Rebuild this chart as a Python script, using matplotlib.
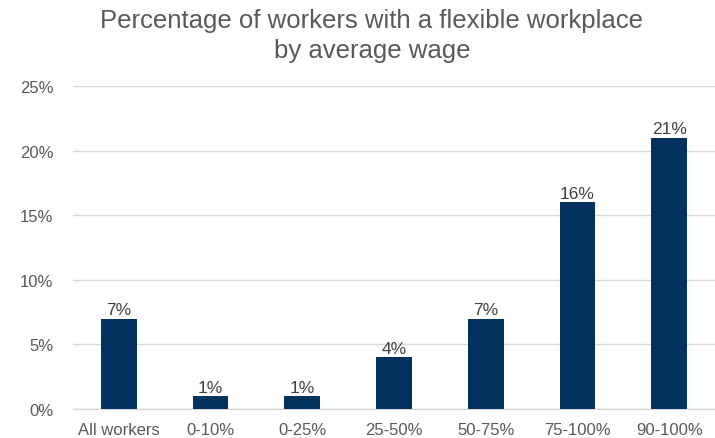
import matplotlib
matplotlib.use("Agg")
import matplotlib.pyplot as plt
from matplotlib.ticker import FuncFormatter

categories = ["All workers", "0-10%", "0-25%", "25-50%", "50-75%", "75-100%", "90-100%"]
values = [7, 1, 1, 4, 7, 16, 21]
value_labels = ["7%", "1%", "1%", "4%", "7%", "16%", "21%"]
yticks = [0, 5, 10, 15, 20, 25]

plt.rcParams['font.family'] = ['Liberation Sans', 'DejaVu Sans']

fig = plt.figure(figsize=(7.15, 4.39), dpi=100)
ax = fig.add_axes([0.102, 0.066, 0.898, 0.736])

x = list(range(len(categories)))
bars = ax.bar(x, values, width=0.39, color="#03325F", zorder=3)
for xi, v, lab in zip(x, values, value_labels):
    ax.annotate(lab, (xi, v), xytext=(0, 1), textcoords="offset points",
                ha="center", va="bottom", fontsize=12.5, color="#404040", zorder=4)

ax.set_xlim(-0.5, len(categories) - 0.5)
ax.set_ylim(0, 25)
ax.set_yticks(yticks)
ax.yaxis.set_major_formatter(FuncFormatter(lambda v, p: f"{int(v)}%"))
ax.set_xticks(x)
ax.set_xticklabels(categories)
ax.tick_params(axis="both", length=0, labelsize=12, labelcolor="#595959")
ax.tick_params(axis="y", pad=14)
ax.tick_params(axis="x", pad=9)
ax.grid(axis="y", color="#D9D9D9", linewidth=1, zorder=0)
for s in ["top", "right", "left"]:
    ax.spines[s].set_visible(False)
ax.spines["bottom"].set_color("#D9D9D9")
ax.spines["bottom"].set_linewidth(1)

fig.text(0.52, 0.98, "Percentage of workers with a flexible workplace\nby average wage",
         ha="center", va="top", fontsize=18.5, color="#595959", linespacing=1.35)

fig.savefig("out.png", dpi=100)
